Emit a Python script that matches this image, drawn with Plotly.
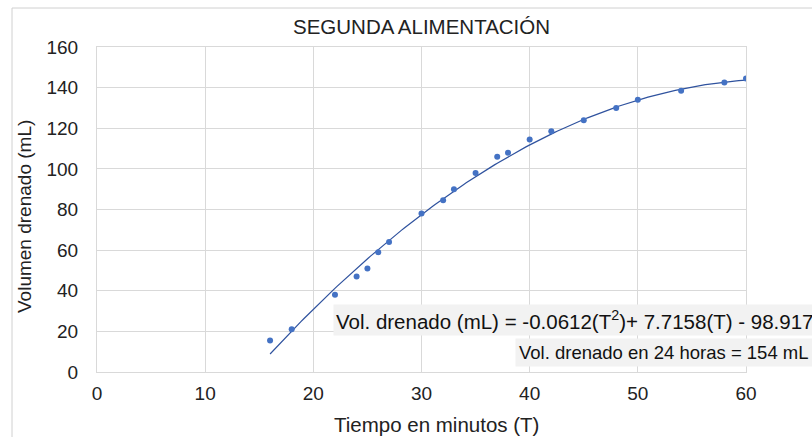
import numpy as np
import plotly.graph_objects as go

# Measured drainage volume over time (second feed)
tiempo_min = [16, 18, 22, 24, 25, 26, 27, 30, 32, 33, 35, 37, 38, 40, 42, 45, 48, 50, 54, 58, 60]
volumen_ml = [15.5, 21, 38, 47, 51, 59, 64, 78, 84.5, 90, 98, 106, 108, 114.5, 118.5,
              124, 130, 134, 138.5, 142.5, 144.5]

# Quadratic trendline coefficients: a*T^2 + b*T + c
coef_tendencia = [-0.0612, 7.7158, -98.917]

titulo = "SEGUNDA ALIMENTACIÓN"
titulo_x = "Tiempo en minutos (T)"
titulo_y = "Volumen drenado (mL)"
texto_ecuacion = "Vol. drenado (mL) = -0.0612(T<sup>2</sup>)+ 7.7158(T) - 98.917"
texto_24h = "Vol. drenado en 24 horas = 154 mL"

W, H = 812, 437
M_L, M_R, M_T, M_B = 97, 66, 47, 65
PW, PH = W - M_L - M_R, H - M_T - M_B


def px_x(x):
    return (x - M_L) / PW


def px_y(y):
    return (H - M_B - y) / PH


FONT = "Liberation Sans, Arial, sans-serif"
GRID = "#d9d9d9"

t_fit = np.linspace(min(tiempo_min), max(tiempo_min), 200)
v_fit = np.polyval(coef_tendencia, t_fit)

fig = go.Figure()
fig.add_trace(go.Scatter(
    x=t_fit, y=v_fit, mode="lines",
    line=dict(color="#2f529e", width=1.2),
    hoverinfo="skip", showlegend=False,
))
fig.add_trace(go.Scatter(
    x=tiempo_min, y=volumen_ml, mode="markers",
    marker=dict(color="#4472c4", size=6),
    showlegend=False,
))

fig.update_xaxes(
    range=[0, 60], dtick=10, tick0=0,
    showgrid=True, gridcolor=GRID, gridwidth=1,
    zeroline=False, showline=True, linecolor=GRID, linewidth=1, mirror=True,
    ticks="", ticklabelstandoff=4,
    tickfont=dict(family=FONT, size=19, color="#222"),
)
fig.update_yaxes(
    range=[0, 160], dtick=20, tick0=0,
    showgrid=True, gridcolor=GRID, gridwidth=1,
    zeroline=False, showline=True, linecolor=GRID, linewidth=1, mirror=True,
    ticks="", ticklabelstandoff=14,
    tickfont=dict(family=FONT, size=19, color="#222"),
)

annotations = [
    dict(text=titulo, x=px_x(421), y=px_y(26), xref="paper", yref="paper",
         xanchor="center", yanchor="middle", showarrow=False,
         font=dict(family=FONT, size=20.5, color="#222")),
    dict(text=titulo_x, x=px_x(436), y=px_y(424), xref="paper", yref="paper",
         xanchor="center", yanchor="middle", showarrow=False,
         font=dict(family=FONT, size=20.5, color="#222")),
    dict(text=titulo_y, x=px_x(25), y=px_y(217), xref="paper", yref="paper",
         xanchor="center", yanchor="middle", showarrow=False, textangle=-90,
         font=dict(family=FONT, size=19, color="#222")),
    dict(text=texto_ecuacion, x=px_x(333), y=px_y(320), xref="paper", yref="paper",
         xanchor="left", yanchor="middle", showarrow=False,
         bgcolor="#f2f2f2", borderpad=2,
         font=dict(family=FONT, size=20.5, color="#111")),
    dict(text=texto_24h, x=px_x(515), y=px_y(352), xref="paper", yref="paper",
         xanchor="left", yanchor="middle", showarrow=False,
         bgcolor="#f2f2f2", borderpad=3,
         font=dict(family=FONT, size=18.5, color="#111")),
]

# Outer chart frame (continues past the right and bottom edges)
shapes = [
    dict(type="rect", xref="paper", yref="paper",
         x0=px_x(12), x1=px_x(W + 50), y0=px_y(H + 50), y1=px_y(8),
         line=dict(color="#d0d0d0", width=1), fillcolor="rgba(0,0,0,0)", layer="below"),
]

fig.update_layout(
    width=W, height=H,
    margin=dict(l=M_L, r=M_R, t=M_T, b=M_B),
    paper_bgcolor="white", plot_bgcolor="white",
    annotations=annotations, shapes=shapes,
    showlegend=False,
)

fig.write_html("out.html")
